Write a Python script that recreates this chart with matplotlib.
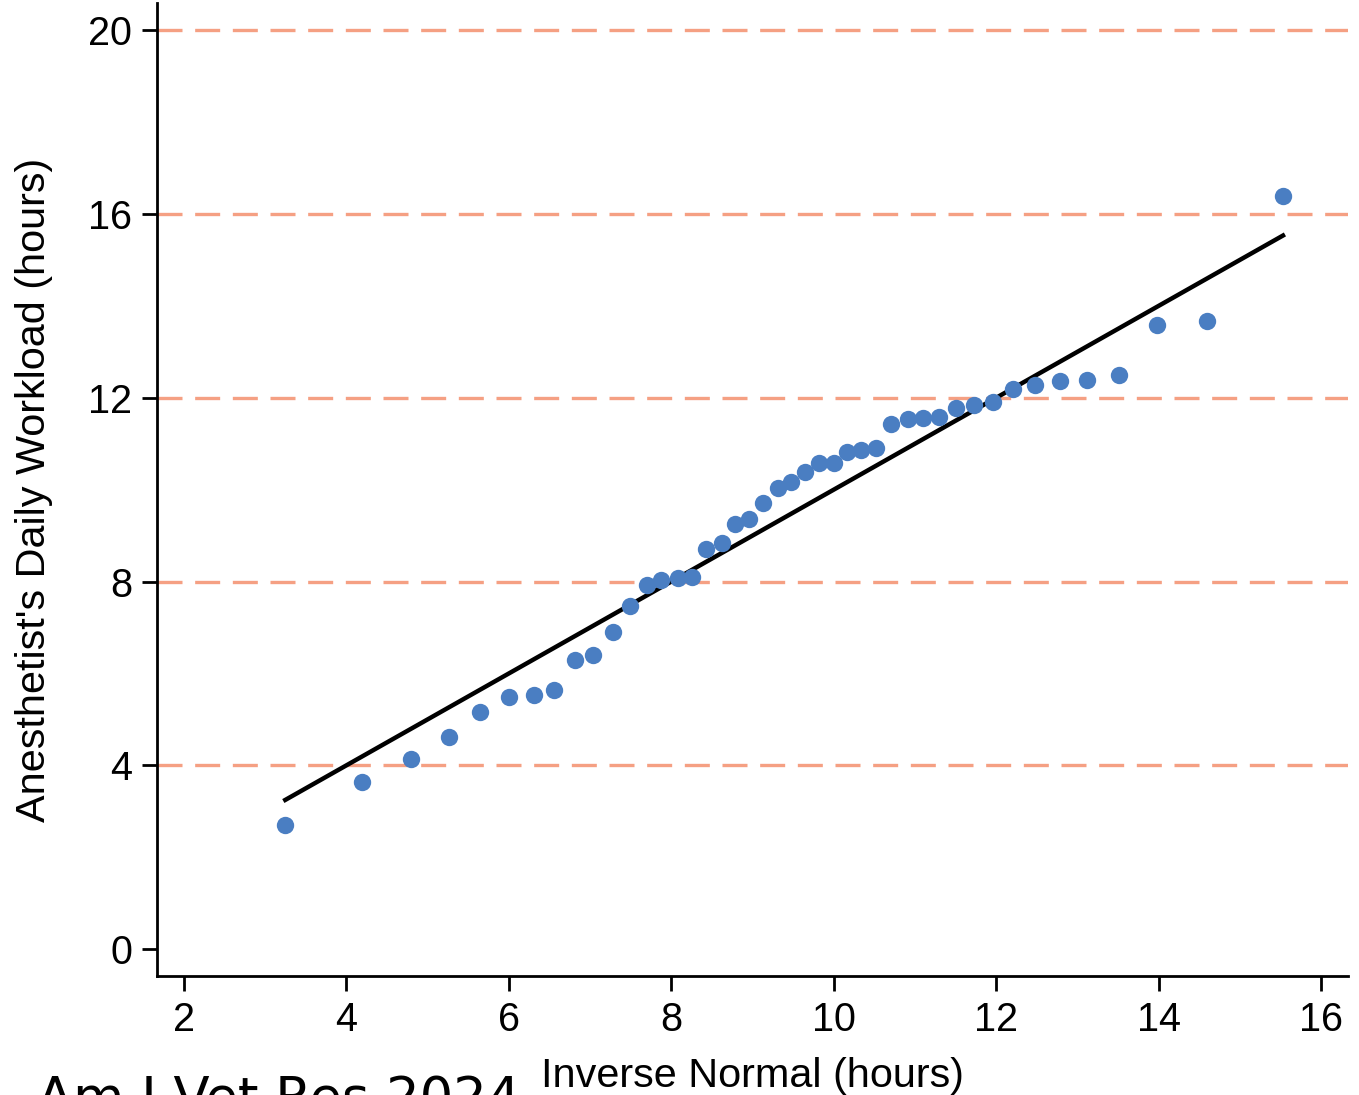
import matplotlib
matplotlib.use('Agg')
import matplotlib.pyplot as plt

# observed workload vs inverse normal quantiles
inv_normal = [3.25, 4.19, 4.80, 5.27, 5.65, 6.00, 6.31, 6.56, 6.82, 7.04,
              7.28, 7.49, 7.70, 7.88, 8.08, 8.26, 8.43, 8.62, 8.79, 8.96,
              9.13, 9.31, 9.48, 9.65, 9.82, 10.00, 10.17, 10.34, 10.52, 10.71,
              10.91, 11.10, 11.30, 11.51, 11.73, 11.96, 12.21, 12.48, 12.79, 13.12,
              13.51, 13.98, 14.60, 15.53]
workload = [2.70, 3.65, 4.13, 4.63, 5.17, 5.50, 5.54, 5.65, 6.30, 6.41,
            6.91, 7.46, 7.93, 8.04, 8.07, 8.11, 8.72, 8.85, 9.26, 9.37,
            9.70, 10.04, 10.17, 10.39, 10.57, 10.59, 10.83, 10.87, 10.91, 11.43,
            11.54, 11.57, 11.59, 11.78, 11.85, 11.91, 12.20, 12.28, 12.37, 12.39,
            12.50, 13.59, 13.67, 16.39]

# reference line y = x over the data range
ref_x = [3.25, 15.53]
ref_y = [3.25, 15.53]

x_ticks = [2, 4, 6, 8, 10, 12, 14, 16]
y_ticks = [0, 4, 8, 12, 16, 20]
hlines = [4, 8, 12, 16, 20]

plt.rcParams['font.family'] = ['Liberation Sans', 'DejaVu Sans']

fig = plt.figure(figsize=(13.59, 10.95), dpi=100)
ax = fig.add_axes([0.1155, 0.1087, 0.8764, 0.8886])

# dashed horizontal reference lines
for h in hlines:
    ax.axhline(h, color='#f5a083', lw=2.4, dashes=(7.5, 3.8), zorder=1)

ax.plot(inv_normal, workload, 'o', color='#4a7ec2', markersize=12.5,
        markeredgewidth=0, zorder=3)
ax.plot(ref_x, ref_y, color='black', lw=3.2, zorder=2)

ax.set_xlim(1.671, 16.33)
ax.set_ylim(-0.58, 20.59)
ax.set_xticks(x_ticks)
ax.set_yticks(y_ticks)

ax.spines['top'].set_visible(False)
ax.spines['right'].set_visible(False)
for s in ['left', 'bottom']:
    ax.spines[s].set_linewidth(2)

ax.tick_params(axis='both', length=11, width=2, labelsize=28.5, pad=7)

ax.set_xlabel('Inverse Normal (hours)', fontsize=29.8, labelpad=13)
ax.set_ylabel("Anesthetist's Daily Workload (hours)", fontsize=29.8, labelpad=25)

# source note, partly cut off at the bottom edge
fig.text(37 / 1359, -0.018, 'Am J Vet Res 2024', family='DejaVu Sans',
         fontsize=38, va='baseline', ha='left')

fig.savefig('out.png', dpi=100)
